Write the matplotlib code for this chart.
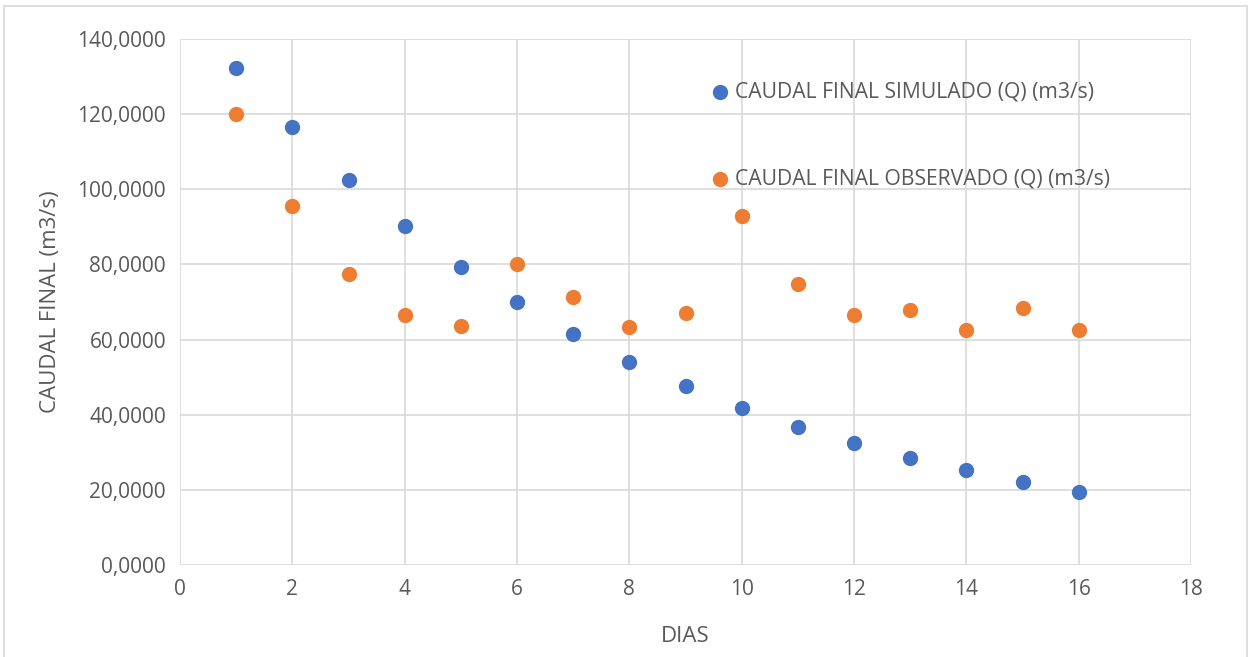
import matplotlib.pyplot as plt
from matplotlib.ticker import FuncFormatter, MultipleLocator

# Datos
dias = [1, 2, 3, 4, 5, 6, 7, 8, 9, 10, 11, 12, 13, 14, 15, 16]
q_simulado = [132.3, 116.6, 102.5, 90.2, 79.3, 70.0, 61.5, 54.0, 47.6, 41.8,
              36.7, 32.5, 28.5, 25.3, 22.1, 19.4]
q_observado = [120.0, 95.6, 77.5, 66.5, 63.6, 80.1, 71.3, 63.3, 67.1, 92.9,
               74.8, 66.5, 67.9, 62.5, 68.4, 62.5]

etiqueta_sim = "CAUDAL FINAL SIMULADO (Q) (m3/s)"
etiqueta_obs = "CAUDAL FINAL OBSERVADO (Q) (m3/s)"

texto = "#595959"
plt.rcParams['font.family'] = ['Open Sans', 'DejaVu Sans']

fig = plt.figure(figsize=(12.51, 6.57), dpi=100)
ax = fig.add_axes([180 / 1251, 1 - 565 / 657, (1191 - 180) / 1251, (565 - 39) / 657])

# borde exterior del gráfico
fig.patches.append(plt.Rectangle((4 / 1251, -0.01), 1243 / 1251, 1.01 - 6 / 657,
                                 transform=fig.transFigure, fill=False,
                                 edgecolor="#D9D9D9", linewidth=1.2))

ax.scatter(dias, q_simulado, s=100, color="#4472C4", label=etiqueta_sim, zorder=3)
ax.scatter(dias, q_observado, s=100, color="#ED7D31", label=etiqueta_obs, zorder=3)

ax.set_xlim(0, 18)
ax.set_ylim(0, 140)
ax.xaxis.set_major_locator(MultipleLocator(2))
ax.yaxis.set_major_locator(MultipleLocator(20))
ax.yaxis.set_major_formatter(FuncFormatter(lambda v, p: f"{v:.4f}".replace(".", ",")))

ax.grid(True, color="#D9D9D9", linewidth=1.2)
ax.set_axisbelow(True)
for s in ax.spines.values():
    s.set_visible(False)
ax.tick_params(length=0, labelsize=15, colors=texto, pad=10)

ax.set_xlabel("DIAS", fontsize=16, color=texto, labelpad=19)
ax.set_ylabel("CAUDAL FINAL (m3/s)", fontsize=16, color=texto, labelpad=12)

ax.legend(loc="upper left", bbox_to_anchor=(0.505, 0.935), frameon=False,
          labelspacing=3.1, handletextpad=-0.3, fontsize=15.2, labelcolor=texto,
          borderaxespad=0)

fig.savefig("out.png", dpi=100)
